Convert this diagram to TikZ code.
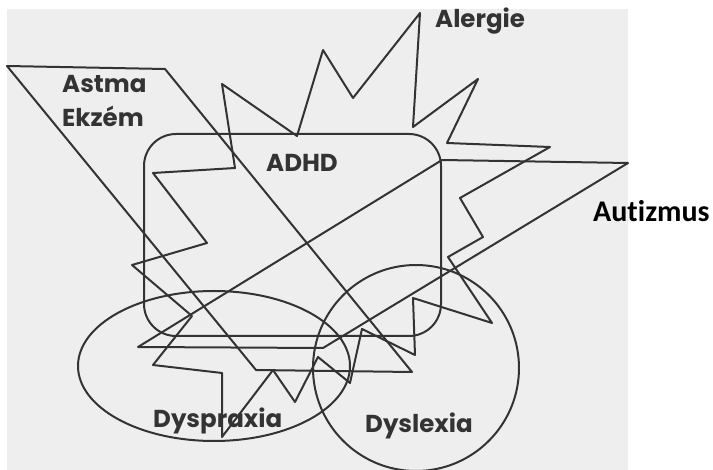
\documentclass[tikz,border=0pt]{standalone}
\usepackage{fontspec}
\newfontfamily\comic{Poppins}
\newfontfamily\calib[Ligatures=NoCommon]{Carlito}
\definecolor{ink}{HTML}{333333}
\definecolor{paper}{HTML}{EEEEEE}
\tikzset{
  shapeline/.style={draw=ink, line width=2pt, line join=round},
  lbl/.style={text=ink, font=\comic\fontsize{24.5}{24.5}\selectfont\bfseries, inner sep=0pt, anchor=base west},
  autlbl/.style={text=black, font=\calib\fontsize{30}{30}\selectfont\bfseries, inner sep=0pt, anchor=base west}
}
\begin{document}
\begin{tikzpicture}[x=1pt,y=-1pt]
\useasboundingbox (0,0) rectangle (713,470);
\fill[white] (0,0) rectangle (713,470);
\fill[paper] (7,9) rectangle (628,470);
% Astma / Ekzem parallelogram
\draw[shapeline] (7,66) -- (165,69) -- (412,372) -- (256,370) -- cycle;
% ADHD rounded rectangle
\draw[shapeline, rounded corners=32pt] (144,134) rectangle (441,336);
% Autizmus band
\draw[shapeline] (442,160) -- (628,163) -- (323,348) -- (138,347) -- cycle;
% Alergie jagged polygon
\draw[shapeline] (222,84) -- (297,136) -- (323,50) -- (353,98) -- (420,13) -- (413,127)
  -- (478,79) -- (447,143) -- (550,147) -- (460,198) -- (483,237) -- (448,257)
  -- (492,323) -- (413,298) -- (415,355) -- (362,329) -- (350,383) -- (318,357)
  -- (295,402) -- (273,370) -- (222,437) -- (222,373) -- (153,365) -- (192,316)
  -- (132,265) -- (207,243) -- (153,173) -- (235,168) -- cycle;
% Dyspraxia ellipse
\draw[shapeline] (214,366) ellipse [x radius=136pt, y radius=75pt];
% Dyslexia circle
\draw[shapeline] (416,368) circle [radius=103pt];
% labels
\node[lbl] (astma) at (62,93) {Astma};
\node[lbl] (ekzem) at (62,127) {Ekzém};
\node[lbl] (alergie) at (435,28) {Alergie};
\node[lbl] (adhd) at (266,172) {ADHD};
\node[lbl] (dyspraxia) at (153,428) {Dyspraxia};
\node[lbl] (dyslexia) at (365,433) {Dyslexia};
\node[autlbl] (autizmus) at (593,222) {Autizmus};
\end{tikzpicture}
\end{document}
